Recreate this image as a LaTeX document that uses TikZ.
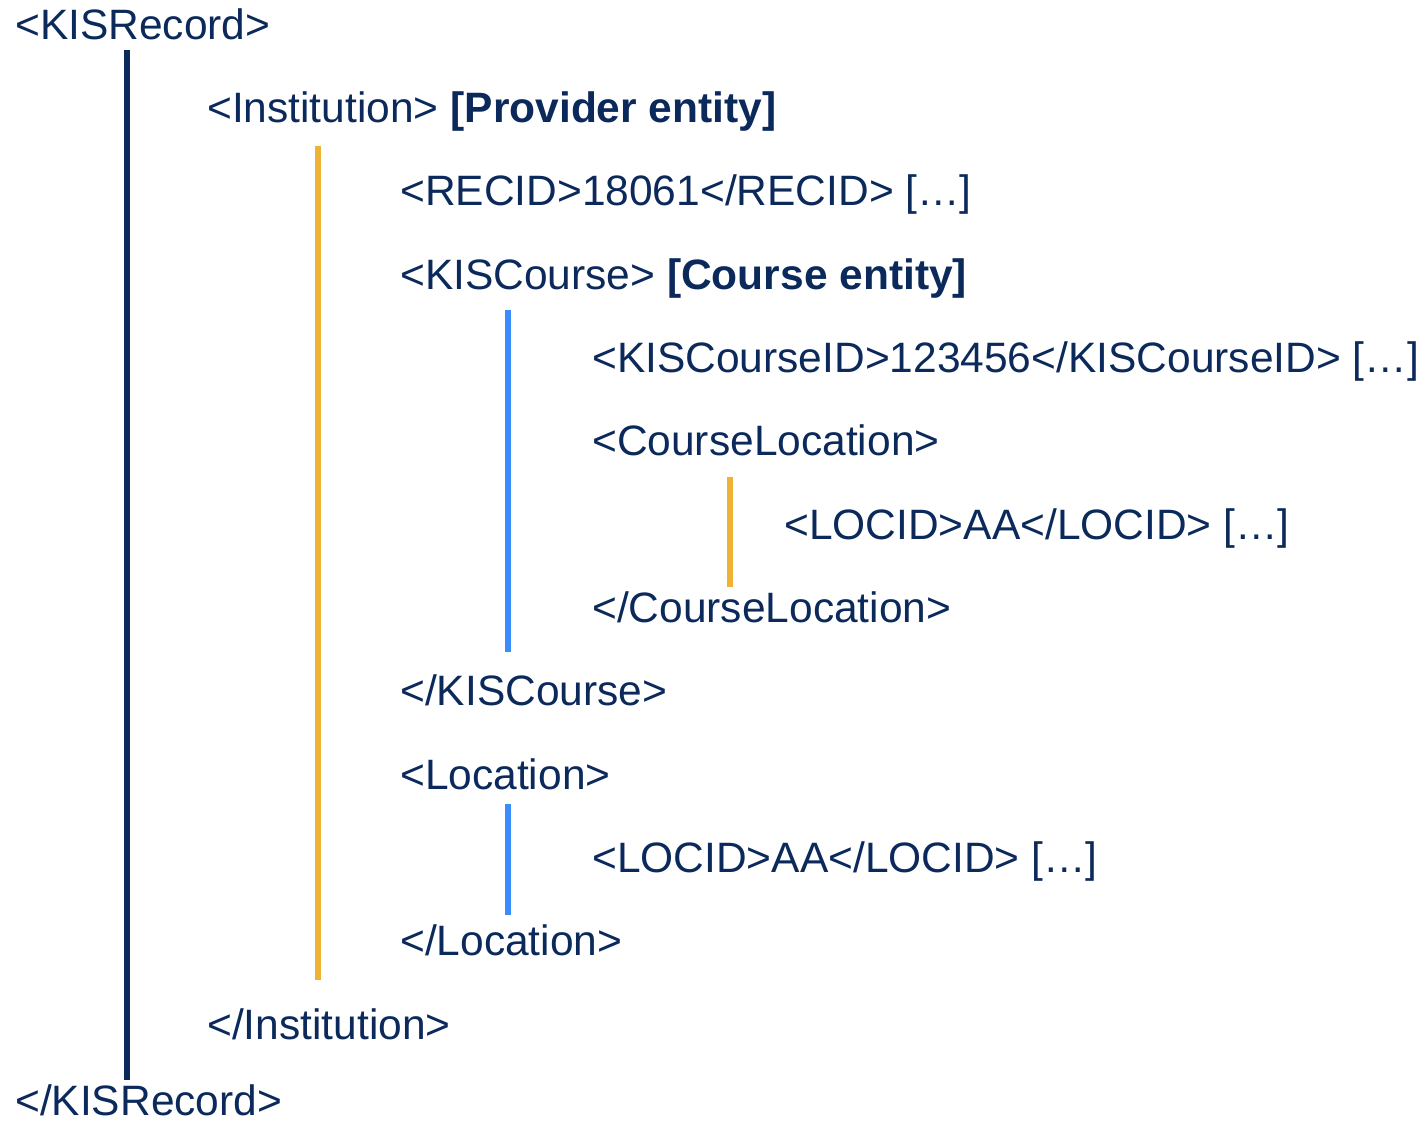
\documentclass[tikz,border=0pt]{standalone}
\usepackage{fontspec}
\setmainfont{Liberation Sans}
\usepackage{xcolor}
\usepackage{tikz}
\usetikzlibrary{positioning,calc}

\definecolor{kisnavy}{RGB}{11,41,91}
\definecolor{kisorange}{RGB}{240,178,52}
\definecolor{kisblue}{RGB}{58,141,255}

\begin{document}
\begin{tikzpicture}[x=1pt, y=-1pt,
  tag/.style={anchor=west, inner sep=0pt, text height=29pt, text depth=0pt, text=kisnavy, font=\fontsize{42.5}{50}\selectfont},
  bar/.style={line width=5.5pt, draw=#1}
]
  \useasboundingbox (0,0) rectangle (1426,1124);

  % Record level
  \node[tag] (kisrec)    at (15,25)   {<KISRecord>};
  \node[tag] (kisrecend) at (15,1101) {</KISRecord>};

  % Provider entity
  \node[tag] (inst)    at (207,108)  {<Institution> \textbf{[Provider entity]}};
  \node[tag] (recid)   at (400,191)  {<RECID>18061</RECID> […]};
  \node[tag] (instend) at (207,1025) {</Institution>};

  % Course entity
  \node[tag] (course)    at (400,275) {<KISCourse> \textbf{[Course entity]}};
  \node[tag] (courseid)  at (592,358) {<KISCourseID>123456</KISCourseID> […]};
  \node[tag] (crsloc)    at (592,441) {<CourseLocation>};
  \node[tag] (crslocid)  at (784,525) {<LOCID>AA</LOCID> […]};
  \node[tag] (crslocend) at (592,608) {</CourseLocation>};
  \node[tag] (courseend) at (400,691) {</KISCourse>};

  % Location
  \node[tag] (loc)    at (400,775) {<Location>};
  \node[tag] (locid)  at (592,858) {<LOCID>AA</LOCID> […]};
  \node[tag] (locend) at (400,941) {</Location>};

  % Nesting bars (open tag to close tag)
  \draw[bar=kisnavy]   ($(kisrec.south -| 127,0)+(0,10.5)$) -- ($(kisrecend.north -| 127,0)+(0,-6.5)$);
  \draw[bar=kisorange] ($(inst.south -| 318,0)+(0,23)$)     -- ($(instend.north -| 318,0)+(0,-30.5)$);
  \draw[bar=kisblue]   ($(course.south -| 508,0)+(0,20.5)$) -- ($(courseend.north -| 508,0)+(0,-24.5)$);
  \draw[bar=kisorange] ($(crsloc.south -| 730,0)+(0,21.5)$) -- ($(crslocend.north -| 730,0)+(0,-6.5)$);
  \draw[bar=kisblue]   ($(loc.south -| 508,0)+(0,14.5)$)    -- ($(locend.north -| 508,0)+(0,-11.5)$);

\end{tikzpicture}
\end{document}
